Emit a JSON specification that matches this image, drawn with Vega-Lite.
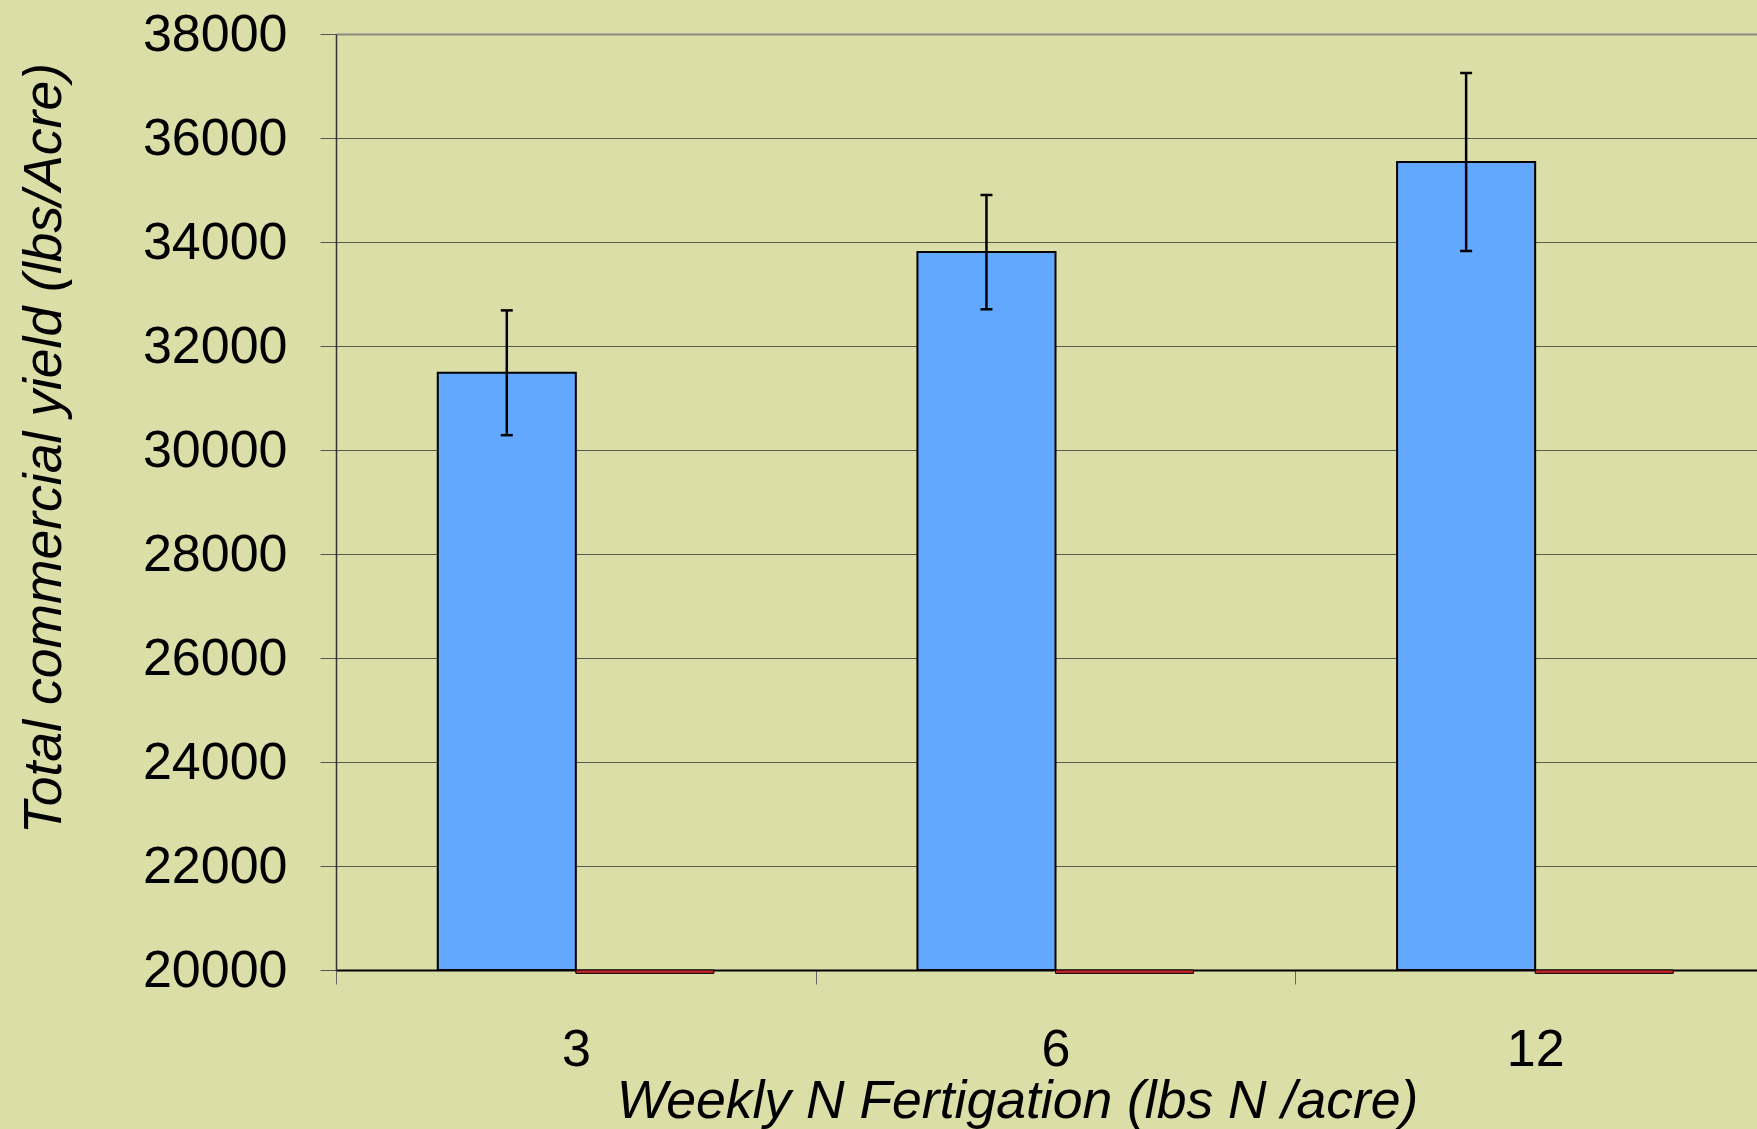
{
  "$schema": "https://vega.github.io/schema/vega-lite/v6.json",
  "autosize": {"type": "none"},
  "padding": {"left": 336, "top": 34, "right": 0, "bottom": 159},
  "width": 1421,
  "height": 936,
  "background": "#dcdea7",
  "config": {
    "view": {"stroke": null},
    "font": "Liberation Sans"
  },
  "data": {
    "values": [
      {"n": "3", "series": "Yield", "value": 31485, "lo": 30285, "hi": 32685},
      {"n": "3", "series": "Other", "value": 19935},
      {"n": "6", "series": "Yield", "value": 33806, "lo": 32706, "hi": 34904},
      {"n": "6", "series": "Other", "value": 19935},
      {"n": "12", "series": "Yield", "value": 35538, "lo": 33827, "hi": 37250},
      {"n": "12", "series": "Other", "value": 19935}
    ]
  },
  "encoding": {
    "x": {
      "field": "n",
      "type": "nominal",
      "scale": {"domain": ["3", "6", "12"], "range": [0, 1439], "paddingInner": 0, "paddingOuter": 0},
      "axis": {
        "title": "Weekly N Fertigation (lbs N /acre)",
        "titleFont": "Liberation Sans",
        "titleFontSize": 53.5,
        "titleFontStyle": "italic",
        "titleFontWeight": "normal",
        "titleColor": "#000000",
        "titleX": 681,
        "titleY": 147,
        "titleAlign": "center",
        "titleBaseline": "alphabetic",
        "labelFont": "Liberation Sans",
        "labelFontSize": 52,
        "labelColor": "#000000",
        "labelAngle": 0,
        "labelPadding": 40,
        "tickBand": "extent",
        "tickSize": 14,
        "tickColor": "#666666",
        "tickWidth": 1,
        "domainColor": "#000000",
        "domainWidth": 2,
        "grid": false
      }
    },
    "xOffset": {
      "field": "series",
      "type": "nominal",
      "scale": {"domain": ["Yield", "Other"], "paddingInner": 0, "paddingOuter": 0.737}
    },
    "y": {
      "field": "value",
      "type": "quantitative",
      "scale": {"domain": [20000, 38000], "zero": false, "nice": false},
      "axis": {
        "title": "Total commercial yield (lbs/Acre)",
        "titleFont": "Liberation Sans",
        "titleFontSize": 53.5,
        "titleFontStyle": "italic",
        "titleFontWeight": "normal",
        "titleColor": "#000000",
        "titleAngle": -90,
        "titleX": -276,
        "titleY": 414,
        "titleAlign": "center",
        "titleBaseline": "alphabetic",
        "values": [20000, 22000, 24000, 26000, 28000, 30000, 32000, 34000, 36000, 38000],
        "format": "d",
        "labelFont": "Liberation Sans",
        "labelFontSize": 52,
        "labelColor": "#000000",
        "labelPadding": 33,
        "labelFlush": false,
        "labelOverlap": false,
        "tickSize": 16,
        "tickColor": "#555555",
        "tickWidth": 1,
        "domainColor": "#333333",
        "domainWidth": 1.5,
        "grid": true,
        "gridColor": {"condition": {"test": "datum.value === 38000", "value": "#8a8a80"}, "value": "#5a5a50"},
        "gridWidth": {"condition": {"test": "datum.value === 38000", "value": 2}, "value": 1}
      }
    }
  },
  "layer": [
    {
      "mark": {"type": "bar", "stroke": "#000000"},
      "encoding": {
        "y2": {"datum": 20000},
        "color": {
          "field": "series",
          "type": "nominal",
          "scale": {"domain": ["Yield", "Other"], "range": ["#63a8ff", "#c8282d"]},
          "legend": null
        },
        "strokeWidth": {"condition": {"test": "datum.series === 'Other'", "value": 1}, "value": 2}
      }
    },
    {
      "transform": [{"filter": "datum.series === 'Yield'"}],
      "mark": {"type": "rule", "color": "#000000", "strokeWidth": 2.5},
      "encoding": {
        "y": {"field": "lo", "type": "quantitative"},
        "y2": {"field": "hi"}
      }
    },
    {
      "transform": [{"filter": "datum.series === 'Yield'"}],
      "mark": {"type": "tick", "color": "#000000", "size": 12, "thickness": 2.5, "opacity": 1},
      "encoding": {
        "y": {"field": "lo", "type": "quantitative"}
      }
    },
    {
      "transform": [{"filter": "datum.series === 'Yield'"}],
      "mark": {"type": "tick", "color": "#000000", "size": 12, "thickness": 2.5, "opacity": 1},
      "encoding": {
        "y": {"field": "hi", "type": "quantitative"}
      }
    }
  ]
}
